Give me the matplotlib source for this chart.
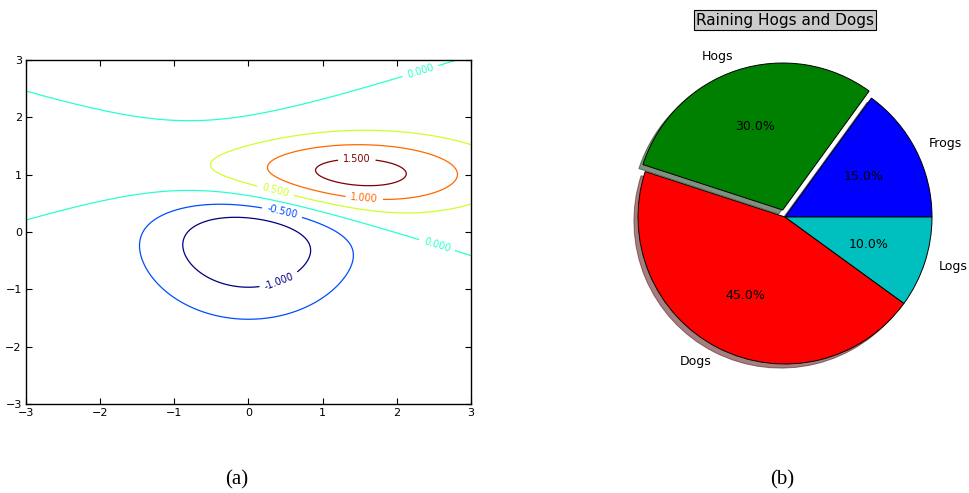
import matplotlib
matplotlib.use('Agg')
import matplotlib.pyplot as plt
import numpy as np

# contour field: difference of two gaussian bumps (centre x, centre y, sigma x, sigma y)
bump_low = [0.0, 0.0, 1.0, 1.0]
bump_high = [1.0, 1.0, 1.5, 0.5]
field_scale = 10.0
contour_levels = [-1.0, -0.5, 0.0, 0.5, 1.0, 1.5]
axis_ticks = [-3, -2, -1, 0, 1, 2, 3]
# where the inline labels sit (data coords)
label_spots = [(2.31, 2.84), (1.46, 1.27), (0.36, 0.71), (1.56, 0.58),
               (0.45, 0.33), (2.54, -0.24), (0.42, -0.88)]

# pie data
pie_labels = ['Frogs', 'Hogs', 'Dogs', 'Logs']
pie_fracs = [15, 30, 45, 10]
pie_explode = [0, 0.05, 0, 0]
pie_colors = ['b', 'g', 'r', 'c']
pie_title = 'Raining Hogs and Dogs'


def gauss(x, y, mx, my, sx, sy):
    return np.exp(-((x - mx) / sx) ** 2 / 2 - ((y - my) / sy) ** 2 / 2) / (2 * np.pi * sx * sy)


fig = plt.figure(figsize=(9.7, 4.93), dpi=100)

# (a) contour
ax1 = fig.add_axes([26 / 970, 1 - 404 / 493, 445 / 970, 344 / 493])
x = np.arange(-3.0, 3.0001, 0.025)
y = np.arange(-3.0, 3.0001, 0.025)
X, Y = np.meshgrid(x, y)
Z = field_scale * (gauss(X, Y, *bump_high) - gauss(X, Y, *bump_low))
cs = ax1.contour(X, Y, Z, levels=contour_levels, cmap='jet', linewidths=0.9)
ax1.clabel(cs, inline=True, fontsize=7, fmt='%1.3f', manual=label_spots)
ax1.set_xlim(-3, 3)
ax1.set_ylim(-3, 3)
ax1.set_xticks(axis_ticks)
ax1.set_yticks(axis_ticks)
ax1.set_xticklabels(['\u2212%d' % -t if t < 0 else str(t) for t in axis_ticks])
ax1.set_yticklabels(['\u2212%d' % -t if t < 0 else str(t) for t in axis_ticks])
ax1.tick_params(direction='in', top=True, right=True, length=4, width=0.8, labelsize=8, pad=3)
for s in ax1.spines.values():
    s.set_linewidth(1.0)

# (b) pie
r_px = 147
half = 1.25
w_px = 2 * r_px * half
ax2 = fig.add_axes([(785 - w_px / 2) / 970, (493 - 217 - w_px / 2) / 493, w_px / 970, w_px / 493])
ax2.pie(pie_fracs, explode=pie_explode, labels=pie_labels, colors=pie_colors,
        autopct='%1.1f%%', shadow=True, startangle=0,
        wedgeprops={'edgecolor': 'black', 'linewidth': 0.7},
        textprops={'fontsize': 9})
ax2.set_xlim(-half, half)
ax2.set_ylim(-half, half)
ax2.set_aspect('equal')
ax2.axis('off')

fig.text(785 / 970, 1 - 20 / 493, pie_title, ha='center', va='center', fontsize=11,
         bbox=dict(facecolor='0.8', edgecolor='black', boxstyle='square,pad=0.15', linewidth=0.8))

fig.text(237 / 970, 1 - 480 / 493, '(a)', ha='center', va='center', fontsize=15, family='Liberation Serif')
fig.text(782 / 970, 1 - 480 / 493, '(b)', ha='center', va='center', fontsize=15, family='Liberation Serif')

fig.savefig('out.png', dpi=100)
